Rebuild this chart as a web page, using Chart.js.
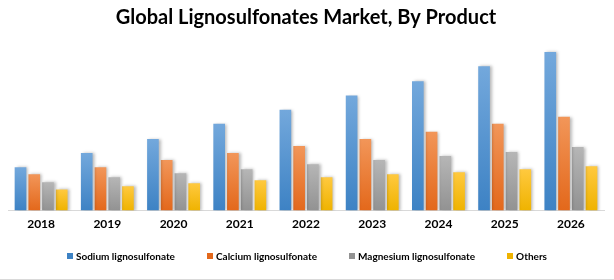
<!DOCTYPE html>
<html lang="en">
<head>
<meta charset="utf-8">
<title>Global Lignosulfonates Market, By Product</title>
<script src="https://cdn.jsdelivr.net/npm/chart.js@4.4.1/dist/chart.umd.min.js"></script>
<style>
  html, body { margin: 0; padding: 0; background: #fff; }
  #wrap { position: relative; width: 614px; height: 280px; }
  #legend {
    position: absolute; left: 0; top: 248px; width: 614px; height: 16px;
    display: flex; justify-content: center; align-items: center;
    font: bold 10px Lato, sans-serif; color: #000;
  }
  #legend span.item { display: flex; align-items: center; margin: 0 16px; white-space: nowrap; }
  #legend i { display: inline-block; width: 6px; height: 6px; margin-right: 3px; }
</style>
</head>
<body>
<div id="wrap">
  <canvas id="chart" width="614" height="280"></canvas>
  <div id="legend"></div>
</div>
<script>
  var years = ["2018", "2019", "2020", "2021", "2022", "2023", "2024", "2025", "2026"];
  var sodium = [43, 57, 71, 86, 100, 114, 128, 143, 157];
  var calcium = [36, 43, 50, 57, 64, 71, 78, 86, 93];
  var magnesium = [28, 33, 37, 41, 46, 50, 54, 58, 63];
  var others = [21, 24, 27, 30, 33, 36, 38, 41, 44];

  // top / bottom colour of each bar gradient
  var shades = {
    blue: ["#73a8dc", "#3d82c4"],
    orange: ["#f29659", "#e3681b"],
    gray: ["#b6b6b6", "#929292"],
    yellow: ["#ffc93f", "#efb300"]
  };

  function barFill(pair) {
    return function (c) {
      var chart = c.chart;
      var area = chart.chartArea;
      if (!area || c.raw === undefined) return pair[1];
      var top = chart.scales.y.getPixelForValue(c.raw);
      var g = chart.ctx.createLinearGradient(0, top, 0, area.bottom);
      g.addColorStop(0, pair[0]);
      g.addColorStop(1, pair[1]);
      return g;
    };
  }

  function dataset(label, data, pair) {
    return {
      label: label,
      data: data,
      swatch: pair[1],
      backgroundColor: barFill(pair),
      borderWidth: 0,
      categoryPercentage: 0.83,
      barPercentage: 0.85
    };
  }

  var shadowPlugin = {
    id: 'barShadow',
    beforeDatasetsDraw: function (chart) {
      var ctx = chart.ctx;
      ctx.save();
      ctx.shadowColor = 'rgba(0,0,0,0.28)';
      ctx.shadowBlur = 3;
      ctx.shadowOffsetX = 2;
      ctx.shadowOffsetY = 0;
    },
    afterDatasetsDraw: function (chart) {
      chart.ctx.restore();
    },
    afterDraw: function (chart) {
      var ctx = chart.ctx;
      ctx.save();
      ctx.strokeStyle = '#d9d9d9';
      ctx.lineWidth = 1;
      ctx.beginPath();
      ctx.moveTo(0, 279.5);
      ctx.lineTo(614, 279.5);
      ctx.stroke();
      ctx.restore();
    }
  };

  var chart = new Chart(document.getElementById('chart'), {
    type: 'bar',
    data: {
      labels: years,
      datasets: [
        dataset("Sodium lignosulfonate", sodium, shades.blue),
        dataset("Calcium lignosulfonate", calcium, shades.orange),
        dataset("Magnesium lignosulfonate", magnesium, shades.gray),
        dataset("Others", others, shades.yellow)
      ]
    },
    options: {
      responsive: false,
      animation: false,
      layout: { padding: { left: 8, right: 10, top: 4, bottom: 51 } },
      plugins: {
        title: {
          display: true,
          text: "Global Lignosulfonates Market, By Product",
          color: '#000',
          font: { family: 'Lato', size: 20, weight: 'bold' },
          padding: { top: 2, bottom: 12 }
        },
        legend: { display: false },
        tooltip: { enabled: false }
      },
      scales: {
        x: {
          grid: { display: false },
          border: { color: '#d9d9d9' },
          ticks: { color: '#000', font: { family: 'Lato', size: 12, weight: 'bold' }, padding: -2 }
        },
        y: {
          display: false,
          min: 0,
          max: 167
        }
      }
    },
    plugins: [shadowPlugin]
  });

  // html legend built from the datasets
  var legend = document.getElementById('legend');
  chart.data.datasets.forEach(function (ds) {
    var item = document.createElement('span');
    item.className = 'item';
    var box = document.createElement('i');
    box.style.background = ds.swatch;
    item.appendChild(box);
    item.appendChild(document.createTextNode(ds.label));
    legend.appendChild(item);
  });
</script>
</body>
</html>
